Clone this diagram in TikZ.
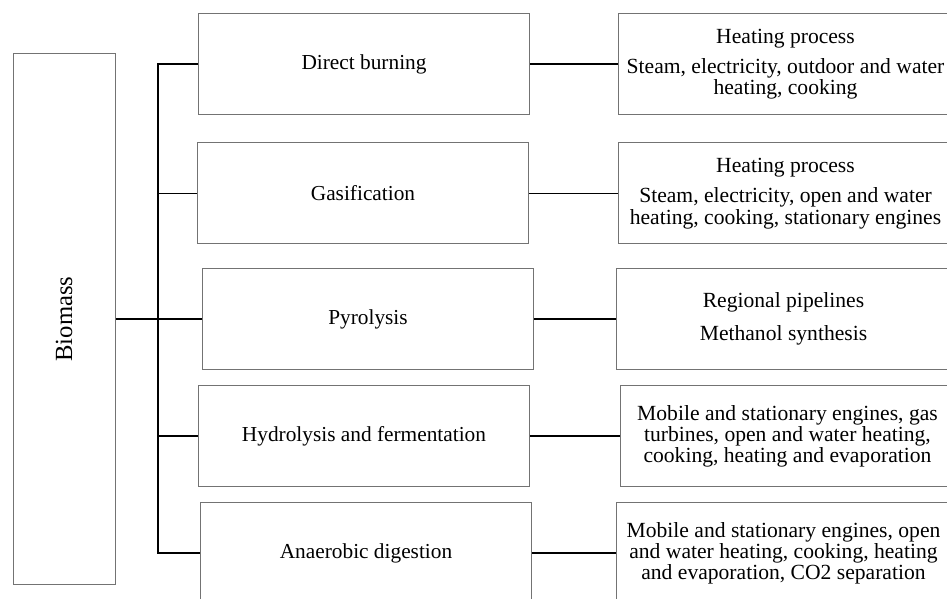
\documentclass[tikz,border=0pt]{standalone}
\usepackage{fontspec}
\setmainfont{Liberation Serif}

\tikzset{every picture/.style={line width=0.75pt}}
\tikzset{
  grayline/.style={draw={rgb, 255:red, 115; green, 115; blue, 115 }, line width=0.75pt},
  procbox/.style={grayline, rectangle, anchor=west, minimum width=248.25pt, minimum height=75.75pt, inner sep=0.75pt, font=\fontsize{16}{15.5}\selectfont},
  usebox/.style={grayline, rectangle, anchor=west, minimum width=250.5pt, minimum height=75.75pt, inner sep=0.75pt, align=center, font=\fontsize{16.2}{15.8}\selectfont},
  link/.style={draw={rgb, 255:red, 0; green, 0; blue, 0 }, line width=0.9pt}
}

\begin{document}
\begin{tikzpicture}[x=0.75pt,y=0.75pt,yscale=-1,xscale=1]
\useasboundingbox (0,0) rectangle (947,599);
\clip (0,0) rectangle (947,599);

%Shape: Rectangle [Biomass]
\node [grayline, rectangle, minimum width=76.5pt, minimum height=398.25pt] (bio) at (64,319) {};
\node [rotate=90, font=\fontsize{18.5}{18.5}\selectfont] (biotext) at (bio.center) {Biomass};

%Shape: Rectangle [processes]
\node [procbox] (burn) at (198,64) {Direct burning};
\node [procbox] (gas) at (197,193.5) {Gasification};
\node [procbox] (pyro) at (202,319) {Pyrolysis};
\node [procbox] (hydro) at (198,436) {Hydrolysis and fermentation};
\node [procbox] (anae) at (200,553) {Anaerobic digestion};

%Shape: Rectangle [uses]
\node [usebox] (burnuse) at (618,64) {Heating process\\[7pt]Steam, electricity, outdoor and water\\heating, cooking};
\node [usebox] (gasuse) at (618,193.5) {Heating process\\[7pt]Steam, electricity, open and water\\heating, cooking, stationary engines};
\node [usebox] (pyrouse) at (616,319) {Regional pipelines\\[8.5pt]Methanol synthesis};
\node [usebox] (hydrouse) at (620,436) {Mobile and stationary engines, gas\\turbines, open and water heating,\\cooking, heating and evaporation};
\node [usebox] (anaeuse) at (616,553) {Mobile and stationary engines, open\\and water heating, cooking, heating\\and evaporation, CO2 separation};

%Straight Lines [trunk]
\coordinate (trunk) at (158,0);
\draw [link] (burn.west) -- (burn.west -| trunk) -- (anae.west -| trunk) -- (anae.west);
\draw [link] (bio.east) -- (pyro.west);
\foreach \p in {gas,hydro}
  \draw [link] (\p.west -| trunk) -- (\p.west);

%Straight Lines [to uses]
\foreach \p in {burn,gas,pyro,hydro,anae}
  \draw [link] (\p.east) -- (\p use.west);

\end{tikzpicture}
\end{document}
